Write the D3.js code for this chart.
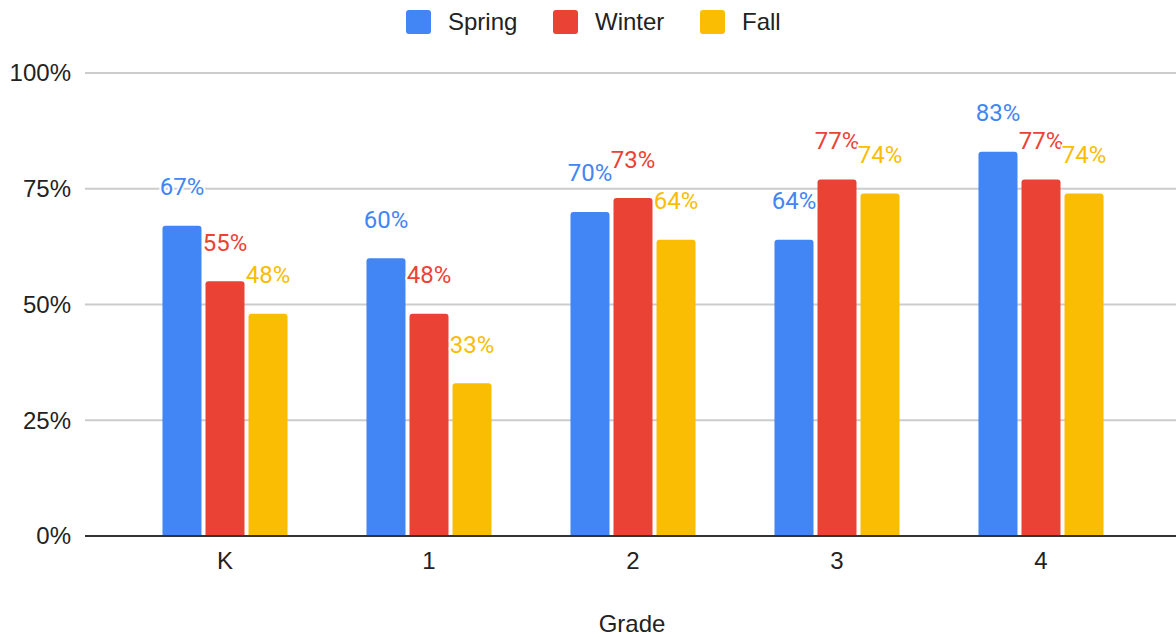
<!DOCTYPE html>
<meta charset="utf-8">
<style>
body { margin: 0; background: #fff; }
text { font-family: Arial, "Liberation Sans", sans-serif; }
.tick-label, .legend text, .axis-title { fill: #222; font-size: 24px; }
.grid line { stroke: #ccc; stroke-width: 2px; }
.value-label { font-family: Roboto, sans-serif; font-size: 24px; stroke: #fff; stroke-width: 4px; paint-order: stroke; stroke-linejoin: round; }
</style>
<svg width="1176" height="637"></svg>
<script src="https://d3js.org/d3.v7.min.js"></script>
<script>

var grades = ["K", "1", "2", "3", "4"];
var seasons = ["Spring", "Winter", "Fall"];
var spring = [67, 60, 70, 64, 83];
var winter = [55, 48, 73, 77, 77];
var fall = [48, 33, 64, 74, 74];
var yTicks = [0, 25, 50, 75, 100];
var colors = ["#4285F4", "#EA4335", "#FBBC04"];

var svg = d3.select("svg");

var plotLeft = 85, plotRight = 1176, plotTop = 73, plotBottom = 536;

var y = d3.scaleLinear().domain([0, 100]).range([plotBottom, plotTop]);

var x0 = d3.scaleBand()
    .domain(grades)
    .range([123, 1143])
    .paddingInner(0.387)
    .paddingOuter(0.1935);

var x1 = d3.scaleBand()
    .domain(seasons)
    .range([0, x0.bandwidth()])
    .paddingInner(0.093);

var color = d3.scaleOrdinal().domain(seasons).range(colors);

var rows = grades.map(function(g, i) {
  return { grade: g, values: [spring[i], winter[i], fall[i]] };
});

// gridlines
svg.append("g")
    .attr("class", "grid")
  .selectAll("line")
  .data(yTicks.filter(function(d) { return d > 0; }))
  .enter().append("line")
    .attr("x1", plotLeft)
    .attr("x2", plotRight)
    .attr("y1", function(d) { return y(d); })
    .attr("y2", function(d) { return y(d); });

// y tick labels
svg.append("g")
  .selectAll("text")
  .data(yTicks)
  .enter().append("text")
    .attr("class", "tick-label")
    .attr("x", 71)
    .attr("y", function(d) { return y(d); })
    .attr("dy", "0.35em")
    .attr("text-anchor", "end")
    .text(function(d) { return d + "%"; });

function barPath(x, yTop, w, h, r) {
  r = Math.min(r, h);
  return "M" + x + "," + (yTop + h) +
    "V" + (yTop + r) +
    "Q" + x + "," + yTop + " " + (x + r) + "," + yTop +
    "H" + (x + w - r) +
    "Q" + (x + w) + "," + yTop + " " + (x + w) + "," + (yTop + r) +
    "V" + (yTop + h) + "Z";
}

var group = svg.append("g")
  .selectAll("g")
  .data(rows)
  .enter().append("g")
    .attr("transform", function(d) { return "translate(" + x0(d.grade) + ",0)"; });

var barData = function(d) {
  return seasons.map(function(s, j) { return { season: s, value: d.values[j] }; });
};

group.selectAll("path")
  .data(barData)
  .enter().append("path")
    .attr("fill", function(d) { return color(d.season); })
    .attr("d", function(d) {
      return barPath(x1(d.season), y(d.value), x1.bandwidth(), plotBottom - y(d.value), 3);
    });

// baseline
svg.append("line")
    .attr("x1", plotLeft)
    .attr("x2", plotRight)
    .attr("y1", plotBottom)
    .attr("y2", plotBottom)
    .attr("stroke", "#333")
    .attr("stroke-width", 2);

// value labels
group.selectAll("text")
  .data(barData)
  .enter().append("text")
    .attr("class", "value-label")
    .attr("fill", function(d) { return color(d.season); })
    .attr("text-anchor", "middle")
    .attr("x", function(d) { return x1(d.season) + x1.bandwidth() / 2; })
    .attr("y", function(d) { return y(d.value) - 30.5; })
    .text(function(d) { return d.value + "%"; });

// x labels
svg.append("g")
  .selectAll("text")
  .data(grades)
  .enter().append("text")
    .attr("class", "tick-label")
    .attr("x", function(d) { return x0(d) + x0.bandwidth() / 2; })
    .attr("y", 569)
    .attr("text-anchor", "middle")
    .text(function(d) { return d; });

svg.append("text")
    .attr("class", "axis-title")
    .attr("x", 632)
    .attr("y", 632)
    .attr("text-anchor", "middle")
    .text("Grade");

// legend
var legendX = [406, 553, 700];
var legend = svg.append("g")
    .attr("class", "legend")
  .selectAll("g")
  .data(seasons)
  .enter().append("g")
    .attr("transform", function(d, i) { return "translate(" + legendX[i] + ",10)"; });

legend.append("rect")
    .attr("width", 25)
    .attr("height", 24)
    .attr("rx", 3)
    .attr("fill", function(d) { return color(d); });

legend.append("text")
    .attr("x", 42)
    .attr("y", 20)
    .text(function(d) { return d; });

</script>
